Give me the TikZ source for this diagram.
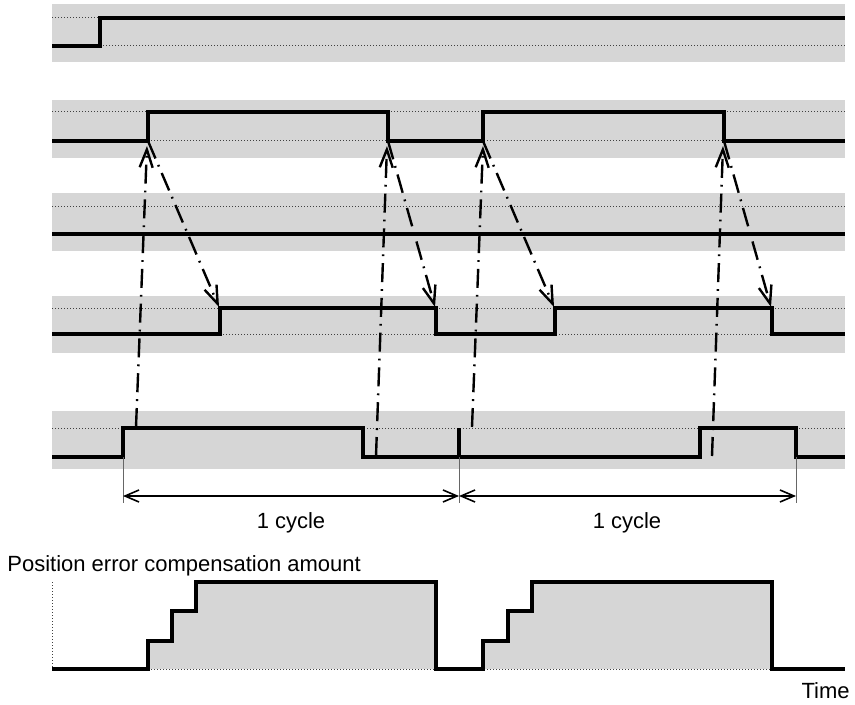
\documentclass[tikz,border=0pt]{standalone}
\usepackage{fontspec}
\setmainfont{Liberation Sans}
\usetikzlibrary{arrows.meta, positioning}
\definecolor{bandgray}{RGB}{214,214,214}

\begin{document}
\begin{tikzpicture}[
    x=0.5pt, y=-0.5pt,
    every node/.style={font=\fontsize{11}{13}\selectfont, inner sep=0pt},
    band/.style={fill=bandgray, draw=none},
    level/.style={densely dotted, line width=0.5pt, black!75},
    signal/.style={line width=1.8pt, line join=miter},
    trigger/.style={line width=1.2pt, dash pattern=on 9.5pt off 3.5pt on 0.9pt off 3.5pt, -{Straight Barb[length=9pt, width=6.5pt, line width=1.2pt]}},
    extension/.style={line width=0.4pt, black!60},
    span/.style={line width=0.8pt, {Straight Barb[length=7pt, width=6pt]}-{Straight Barb[length=7pt, width=6pt]}}
]
\useasboundingbox (0,0) rectangle (855,705);

\foreach \top/\bot in {4/62, 100/158, 193/251, 296/353, 411/469}
    \fill[band] (52,\top) rectangle (845,\bot);

\foreach \y in {18, 46, 112, 141, 207, 308, 334, 428}
    \draw[level] (52,\y) -- (845,\y);

\draw[signal] (52,46) -- (100,46) -- (100,18) -- (845,18);
\draw[signal] (52,141) -- (148,141) -- (148,112) -- (388,112) -- (388,141) -- (483,141) -- (483,112) -- (724,112) -- (724,141) -- (845,141);
\draw[signal] (52,234) -- (845,234);
\draw[signal] (52,334) -- (220,334) -- (220,308) -- (436,308) -- (436,334) -- (555,334) -- (555,308) -- (772,308) -- (772,334) -- (845,334);
\draw[signal] (52,457) -- (123,457) -- (123,428) -- (363,428) -- (363,457) -- (700,457) -- (700,428) -- (796,428) -- (796,457) -- (845,457);
\draw[signal] (459,457) -- (459,428);

\coordinate (rise1) at (148,141);
\coordinate (fall1) at (388,141);
\coordinate (rise2) at (483,141);
\coordinate (fall2) at (724,141);
\coordinate (up1) at (147,146);
\coordinate (up2) at (387,146);
\coordinate (up3) at (483,146);
\coordinate (up4) at (723,146);
\coordinate (src1) at (136,427);
\coordinate (src2) at (376,456);
\coordinate (src3) at (472,427);
\coordinate (src4) at (712,456);
\coordinate (out1) at (219,307);
\coordinate (out2) at (435,307);
\coordinate (out3) at (554,307);
\coordinate (out4) at (771,307);

\foreach \i in {1,...,4}
    \draw[trigger] (src\i) -- (up\i);
\draw[trigger] (rise1) -- (out1);
\draw[trigger] (fall1) -- (out2);
\draw[trigger] (rise2) -- (out3);
\draw[trigger] (fall2) -- (out4);

\coordinate (mark1) at (123,496);
\coordinate (mark2) at (459,496);
\coordinate (mark3) at (796,496);
\foreach \x in {123, 459, 796}
    \draw[extension] (\x,457) -- (\x,503);
\draw[span] (mark1) -- (mark2);
\draw[span] (mark2) -- (mark3);
\node[anchor=base] (cycle1) at (291,528) {1 cycle};
\node[anchor=base] (cycle2) at (627,528) {1 cycle};

\node[anchor=base west] (amount) at (7,571) {Position error compensation amount};
\fill[band] (148,669) -- (148,641) -- (172,641) -- (172,611) -- (196,611) -- (196,582) -- (436,582) -- (436,669) -- cycle;
\fill[band] (483,669) -- (483,641) -- (508,641) -- (508,611) -- (532,611) -- (532,582) -- (772,582) -- (772,669) -- cycle;
\draw[level] (52,582) -- (52,669);
\draw[level] (148,669) -- (772,669);
\draw[signal] (52,669) -- (148,669) -- (148,641) -- (172,641) -- (172,611) -- (196,611) -- (196,582) -- (436,582) -- (436,669) -- (483,669) -- (483,641) -- (508,641) -- (508,611) -- (532,611) -- (532,582) -- (772,582) -- (772,669) -- (845,669);
\node[anchor=base east] (time) at (850,698) {Time};

\end{tikzpicture}
\end{document}
